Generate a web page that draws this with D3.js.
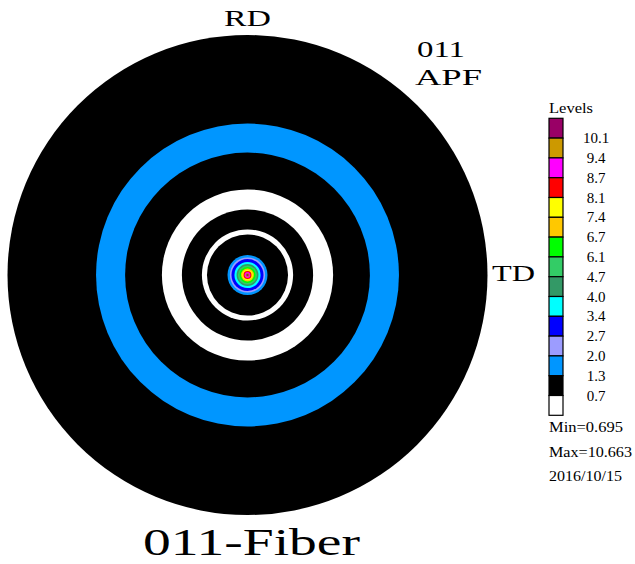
<!DOCTYPE html>
<html>
<head>
<meta charset="utf-8">
<script src="https://cdn.jsdelivr.net/npm/d3@7"></script>
<style>
  html, body { margin: 0; padding: 0; background: #fff; }
  text { font-family: "Liberation Serif", "Times New Roman", serif; fill: #000; }
</style>
</head>
<body>
<div id="chart"></div>
<script>
// contour levels (thresholds) and their fills, low to high
const levels = [0.7, 1.3, 2.0, 2.7, 3.4, 4.0, 4.7, 6.1, 6.7, 7.4, 8.1, 8.7, 9.4, 10.1];
const levelLabels = ['0.7', '1.3', '2.0', '2.7', '3.4', '4.0', '4.7', '6.1', '6.7', '7.4', '8.1', '8.7', '9.4', '10.1'];
const levelColors = ['#ffffff', '#000000', '#0096ff', '#9c9cff', '#0000ff', '#00ffff', '#339966',
                     '#33cc66', '#00ff00', '#ffc800', '#ffff00', '#ff0000', '#ff00ff', '#cc9900', '#990066'];

// radial intensity profile: outer edge of each zone (tilt angle, deg) and its intensity
const zoneEdge  = [90, 56.8, 45.9, 32.1, 24.6, 17.1, 15.2, 7.5, 6.6, 6.0, 4.9, 4.1, 3.6, 3.0, 2.4, 2.0, 1.5, 1.1, 0.7, 0.4];
const zoneValue = [0.9, 1.5, 0.9, 0.69, 0.9, 0.69, 0.9, 1.5, 2.2, 3.0, 3.6, 4.3, 5.0, 6.4, 7.0, 7.7, 8.4, 9.0, 9.8, 10.5];

const minVal = '0.695', maxVal = '10.663', stamp = '2016/10/15';

const width = 635, height = 564;
const cx = 247.5, cy = 275, R = 240;

const svg = d3.select('#chart').append('svg')
  .attr('width', width)
  .attr('height', height);

const color = d3.scaleThreshold().domain(levels).range(levelColors);
const rScale = d3.scaleLinear().domain([0, 90]).range([0, R]);

// pole figure zones, drawn outside in
const zones = zoneEdge.map((e, i) => ({edge: e, value: zoneValue[i]}));
svg.append('g')
  .attr('transform', `translate(${cx},${cy})`)
  .selectAll('circle')
  .data(zones)
  .enter().append('circle')
    .attr('r', d => rScale(d.edge))
    .attr('fill', d => color(d.value));

// fixed-width labels (the original font is wider than Times)
function label(txt, x, y, size, len, anchor) {
  return svg.append('text')
    .attr('x', x).attr('y', y)
    .attr('font-size', size)
    .attr('text-anchor', anchor || 'start')
    .attr('textLength', len)
    .attr('lengthAdjust', 'spacingAndGlyphs')
    .text(txt);
}
label('RD', cx, 26, 24, 47, 'middle');
label('TD', 492, 281, 24, 43);
label('011', 417, 57, 24, 48);
label('APF', 415, 85, 24, 67);
label('011-Fiber', 143, 555, 38, 217);

// legend
const boxX = 549, boxW = 14, boxH = 19.8, boxTop = 118.3;
label('Levels', 549, 113, 15, 44);

const boxes = levelColors.slice().reverse();
svg.append('g').selectAll('rect')
  .data(boxes)
  .enter().append('rect')
    .attr('x', boxX)
    .attr('y', (d, i) => boxTop + i * boxH)
    .attr('width', boxW)
    .attr('height', boxH)
    .attr('fill', d => d)
    .attr('stroke', '#000')
    .attr('stroke-width', 1.2);

// labels sit on the boundaries between boxes
const labs = levelLabels.slice().reverse();
svg.append('g').selectAll('text')
  .data(labs)
  .enter().append('text')
    .attr('x', 596)
    .attr('y', (d, i) => boxTop + (i + 1) * boxH + 5)
    .attr('text-anchor', 'middle')
    .attr('font-size', 15)
    .text(d => d);

const infoTop = boxTop + boxes.length * boxH;
label(`Min=${minVal}`, 549, infoTop + 17, 15, 74);
label(`Max=${maxVal}`, 549, infoTop + 41.5, 15, 83);
label(stamp, 549, infoTop + 66, 15, 73);
</script>
</body>
</html>
